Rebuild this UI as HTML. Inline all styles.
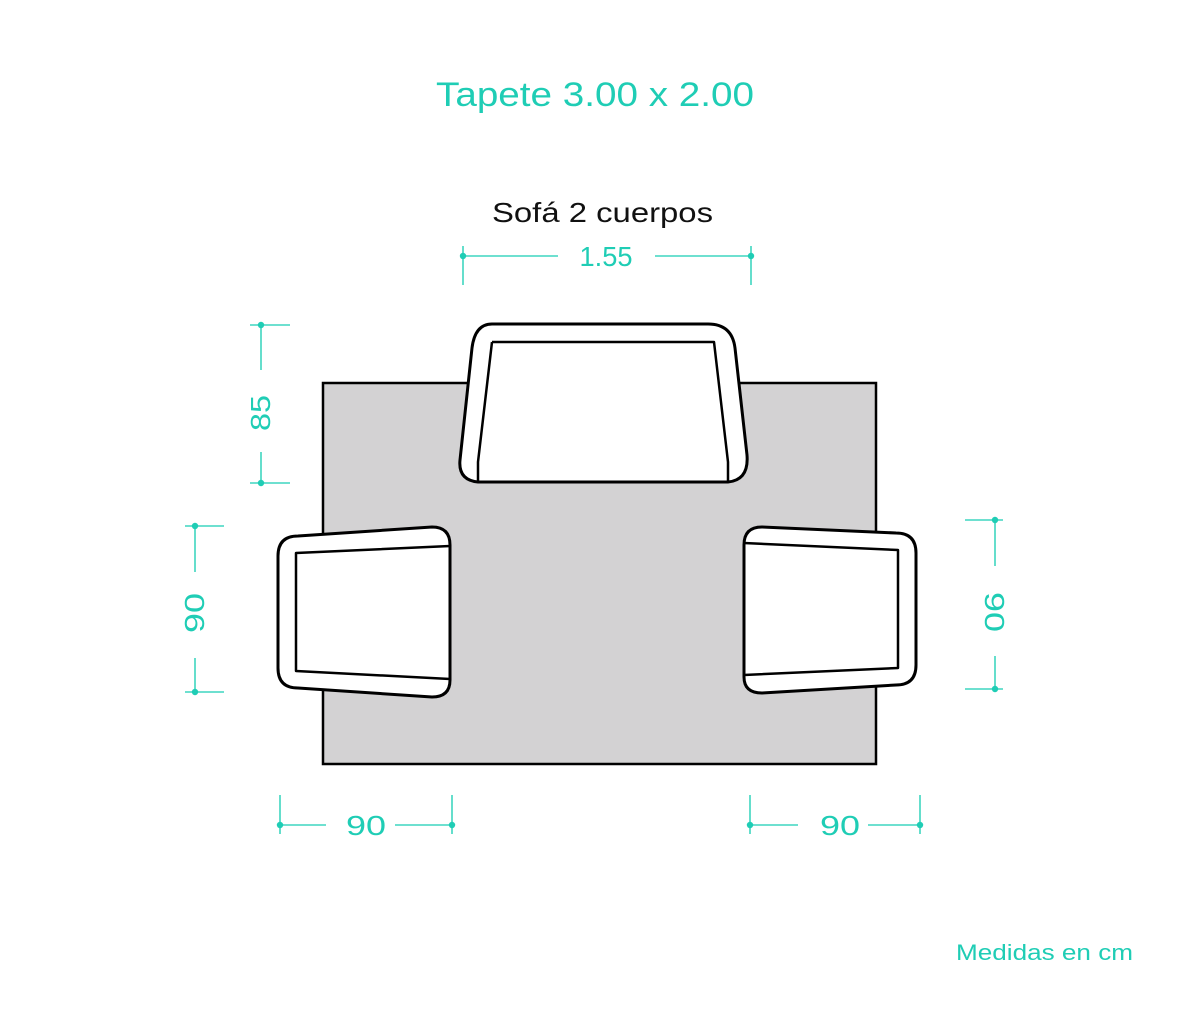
<!DOCTYPE html>
<html><head><meta charset="utf-8"><style>
html,body{margin:0;padding:0;background:#fff;}
svg{display:block;}
text{font-family:"Liberation Sans",sans-serif;}
</style></head><body>
<svg width="1200" height="1028" viewBox="0 0 1200 1028" xmlns="http://www.w3.org/2000/svg">
<rect width="1200" height="1028" fill="#fff"/>
<text x="436" y="106" font-size="34" fill="#1fcdb5" textLength="318" lengthAdjust="spacingAndGlyphs">Tapete 3.00 x 2.00</text>
<text x="492" y="222" font-size="28" fill="#111" textLength="221" lengthAdjust="spacingAndGlyphs">Sofá 2 cuerpos</text>
<text x="782" y="510" font-size="28" fill="#111" textLength="79" lengthAdjust="spacingAndGlyphs">Sillón</text>
<text x="956" y="960" font-size="22" fill="#1fcdb5" textLength="177" lengthAdjust="spacingAndGlyphs">Medidas en cm</text>

<!-- rug -->
<rect x="323" y="383" width="553" height="381" fill="#d3d2d3" stroke="#000" stroke-width="2.5"/>

<g stroke="#000" stroke-width="3" fill="#fff" stroke-linejoin="round">
<!-- sofa -->
<path d="M492,324 L708,324 Q732,324 735,348 L747,455 Q749,480 728,482 L478,482 Q458,480 460,460 L472,348 Q475,324 492,324 Z"/>
<path d="M492,342 L714,342 L728,462 L728,482 M492,342 L478,462 L478,482" fill="none" stroke-width="2.5"/>
<!-- left chair -->
<path d="M298,536 L432,527 Q450,527 450,545 L450,680 Q450,697 432,697 L298,688 Q278,688 278,668 L278,556 Q278,536 298,536 Z"/>
<path d="M450,546 L296,553 L296,671 L450,679" fill="none" stroke-width="2.5"/>
<!-- right chair -->
<path d="M896,533 L762,527 Q744,527 744,545 L744,677 Q744,693 762,693 L896,685 Q916,685 916,665 L916,553 Q916,533 896,533 Z"/>
<path d="M744,543 L898,550 L898,668 L744,675" fill="none" stroke-width="2.5"/>
</g>

<g stroke="#3fd6c0" stroke-width="1.6" fill="none">
<!-- 1.55 -->
<path d="M463,246 V285 M751,246 V285 M463,256 H558 M655,256 H751"/>
<!-- 85 -->
<path d="M250,325 H290 M250,483 H290 M261,325 V370 M261,452 V483"/>
<!-- left 90 -->
<path d="M185,526 H224 M185,692 H224 M195,526 V572 M195,658 V692"/>
<!-- right 90 -->
<path d="M965,520 H1003 M965,689 H1003 M995,520 V566 M995,656 V689"/>
<!-- bottom 90s -->
<path d="M280,795 V834 M452,795 V834 M280,825 H326 M395,825 H452"/>
<path d="M750,795 V834 M920,795 V834 M750,825 H798 M868,825 H920"/>
</g>
<g fill="#1fcdb5">
<circle cx="463" cy="256" r="3.2"/><circle cx="751" cy="256" r="3.2"/>
<circle cx="261" cy="325" r="3.2"/><circle cx="261" cy="483" r="3.2"/>
<circle cx="195" cy="526" r="3.2"/><circle cx="195" cy="692" r="3.2"/>
<circle cx="995" cy="520" r="3.2"/><circle cx="995" cy="689" r="3.2"/>
<circle cx="280" cy="825" r="3.2"/><circle cx="452" cy="825" r="3.2"/>
<circle cx="750" cy="825" r="3.2"/><circle cx="920" cy="825" r="3.2"/>
</g>
<g fill="#1fcdb5" font-size="28">
<text x="606" y="266" text-anchor="middle" textLength="53" lengthAdjust="spacingAndGlyphs">1.55</text>
<text x="366" y="835" text-anchor="middle" textLength="40" lengthAdjust="spacingAndGlyphs">90</text>
<text x="840" y="835" text-anchor="middle" textLength="40" lengthAdjust="spacingAndGlyphs">90</text>
<text transform="translate(270,413) rotate(-90)" text-anchor="middle" textLength="36" lengthAdjust="spacingAndGlyphs">85</text>
<text transform="translate(204,613) rotate(-90)" text-anchor="middle" textLength="40" lengthAdjust="spacingAndGlyphs">90</text>
<text transform="translate(985,612) rotate(90)" text-anchor="middle" textLength="40" lengthAdjust="spacingAndGlyphs">90</text>
</g>
</svg>
</body></html>
